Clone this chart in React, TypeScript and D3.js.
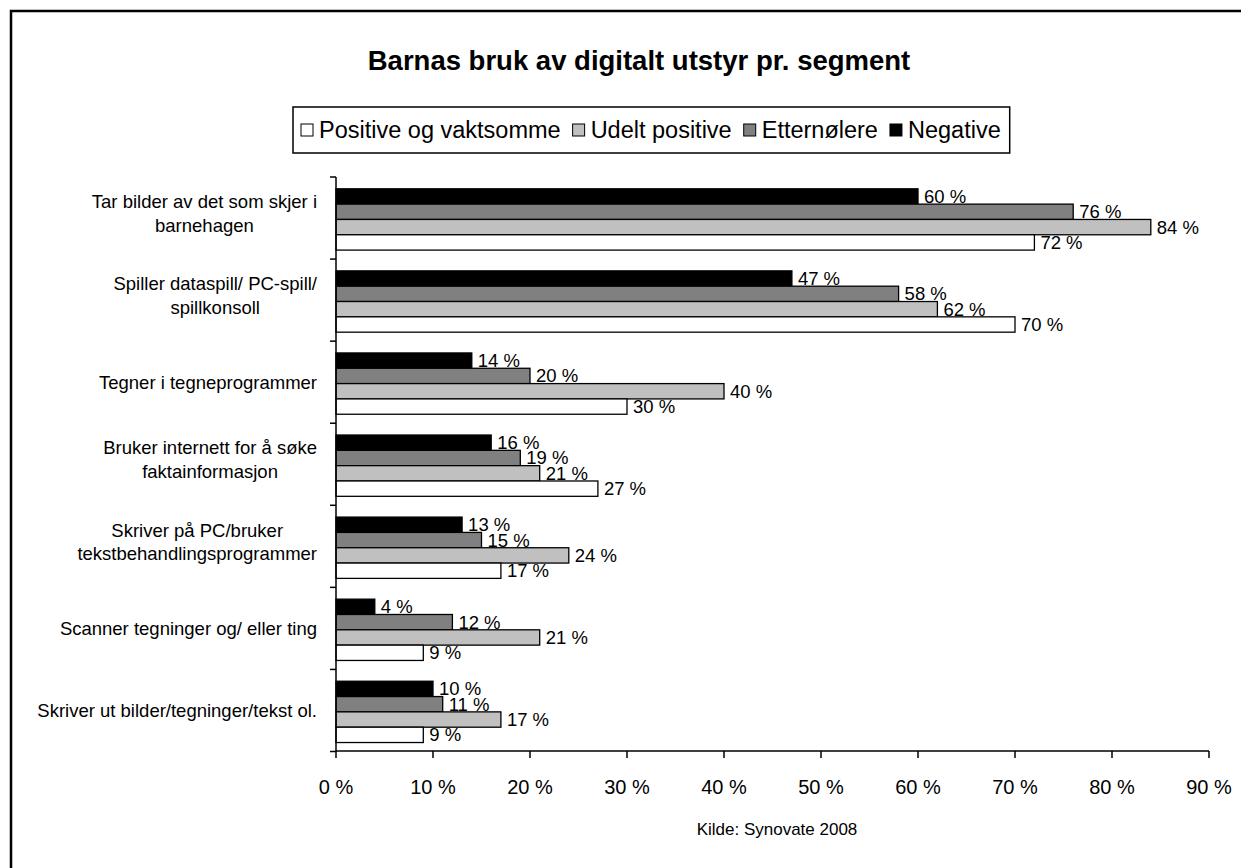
import React, { useEffect, useRef } from 'react';
import * as d3 from 'd3';

// data (top to bottom)
const categories = [
  'Tar bilder av det som skjer i\nbarnehagen',
  'Spiller dataspill/ PC-spill/\nspillkonsoll',
  'Tegner i tegneprogrammer',
  'Bruker internett for å søke\nfaktainformasjon',
  'Skriver på PC/bruker\ntekstbehandlingsprogrammer',
  'Scanner tegninger og/ eller ting',
  'Skriver ut bilder/tegninger/tekst ol.',
];
const seriesNames = ['Positive og vaktsomme', 'Udelt positive', 'Etternølere', 'Negative'];
const seriesColors = ['#ffffff', '#c0c0c0', '#808080', '#000000'];
const positiveVaktsomme = [72, 70, 30, 27, 17, 9, 9];
const udeltPositive = [84, 62, 40, 21, 24, 21, 17];
const etternolere = [76, 58, 20, 19, 15, 12, 11];
const negative = [60, 47, 14, 16, 13, 4, 10];
const xTicks = [0, 10, 20, 30, 40, 50, 60, 70, 80, 90];

const title = 'Barnas bruk av digitalt utstyr pr. segment';
const source = 'Kilde: Synovate 2008';

const FONT = '"Liberation Sans", Arial, sans-serif';

const App = () => {
  const svgRef = useRef<SVGSVGElement>(null);

  useEffect(() => {
    const width = 1241;
    const height = 868;
    const svg = d3.select(svgRef.current);
    svg.selectAll('*').remove();
    svg.attr('width', width).attr('height', height);

    // outer frame (right/bottom edges fall outside the picture)
    svg.append('rect')
      .attr('x', 11).attr('y', 11)
      .attr('width', width + 20).attr('height', height + 20)
      .attr('fill', '#fff')
      .attr('stroke', '#000')
      .attr('stroke-width', 2.5);

    const seriesValues = [positiveVaktsomme, udeltPositive, etternolere, negative];

    const x = d3.scaleLinear().domain([0, 90]).range([336, 1209]);
    const y = d3.scaleBand<string>().domain(categories).range([177, 751.5]);
    // bars drawn top-down: Negative, Etternølere, Udelt positive, Positive og vaktsomme
    const drawOrder = [3, 2, 1, 0];
    const yInner = d3.scaleBand<number>().domain(drawOrder).range([11.8, 73.1]);

    // title
    svg.append('text')
      .attr('x', 639).attr('y', 70)
      .attr('text-anchor', 'middle')
      .attr('font-family', FONT)
      .attr('font-weight', 'bold')
      .attr('font-size', 27.5)
      .text(title);

    // legend
    const legend = svg.append('g');
    const legendBox = legend.append('rect')
      .attr('fill', '#fff')
      .attr('stroke', '#000')
      .attr('stroke-width', 1.5);
    let lx = 301;
    const ly = 130;
    seriesNames.forEach((name, i) => {
      legend.append('rect')
        .attr('x', lx).attr('y', ly - 6)
        .attr('width', 12).attr('height', 12)
        .attr('fill', seriesColors[i])
        .attr('stroke', '#000')
        .attr('stroke-width', 1);
      const t = legend.append('text')
        .attr('x', lx + 18).attr('y', ly)
        .attr('dy', '0.35em')
        .attr('font-family', FONT)
        .attr('font-size', 23.5)
        .text(name);
      const w = (t.node() as SVGTextElement).getComputedTextLength();
      lx += 18 + w + 12;
    });
    legendBox
      .attr('x', 293).attr('y', 107)
      .attr('width', lx - 293 - 3).attr('height', 46);

    // bars
    categories.forEach((cat, ci) => {
      drawOrder.forEach((si) => {
        const v = seriesValues[si][ci];
        const by = (y(cat) as number) + (yInner(si) as number);
        const bh = yInner.bandwidth();
        svg.append('rect')
          .attr('x', x(0)).attr('y', by)
          .attr('width', x(v) - x(0)).attr('height', bh)
          .attr('fill', seriesColors[si])
          .attr('stroke', '#000')
          .attr('stroke-width', 1.3);
      });
    });

    // value labels
    categories.forEach((cat, ci) => {
      drawOrder.forEach((si) => {
        const v = seriesValues[si][ci];
        const by = (y(cat) as number) + (yInner(si) as number) + yInner.bandwidth() / 2;
        svg.append('text')
          .attr('x', x(v) + 6).attr('y', by)
          .attr('dy', '0.35em')
          .attr('font-family', FONT)
          .attr('font-size', 18.5)
          .text(`${v} %`);
      });
    });

    // y axis
    svg.append('line')
      .attr('x1', 336).attr('x2', 336)
      .attr('y1', 177).attr('y2', 751.5)
      .attr('stroke', '#000').attr('stroke-width', 1.5);
    const bounds = categories.map((c) => y(c) as number).concat([751.5]);
    bounds.forEach((b) => {
      svg.append('line')
        .attr('x1', 330).attr('x2', 336)
        .attr('y1', b).attr('y2', b)
        .attr('stroke', '#000').attr('stroke-width', 1.5);
    });

    // category labels: wrapped lines centred, block right-aligned
    const labelRight = 317;
    const lineH = 23.5;
    categories.forEach((cat) => {
      const lines = cat.split('\n');
      const g = svg.append('g');
      const cy = (y(cat) as number) + y.bandwidth() / 2 - (lines.length > 1 ? 4.5 : 0);
      const texts = lines.map((ln, i) =>
        g.append('text')
          .attr('y', cy + (i - (lines.length - 1) / 2) * lineH)
          .attr('dy', '0.35em')
          .attr('text-anchor', 'middle')
          .attr('font-family', FONT)
          .attr('font-size', 18.5)
          .text(ln)
      );
      const maxW = d3.max(texts, (t) => (t.node() as SVGTextElement).getComputedTextLength()) || 0;
      texts.forEach((t) => t.attr('x', labelRight - maxW / 2));
    });

    // x axis
    const xAxis = svg.append('g').attr('transform', 'translate(0,751)');
    xAxis.append('line')
      .attr('x1', x(0)).attr('x2', x(90))
      .attr('stroke', '#000').attr('stroke-width', 1.5);
    xTicks.forEach((t) => {
      xAxis.append('line')
        .attr('x1', x(t)).attr('x2', x(t))
        .attr('y1', 0).attr('y2', 7)
        .attr('stroke', '#000').attr('stroke-width', 1.5);
      xAxis.append('text')
        .attr('x', x(t)).attr('y', 43)
        .attr('text-anchor', 'middle')
        .attr('font-family', FONT)
        .attr('font-size', 20)
        .text(`${t} %`);
    });

    // source note
    svg.append('text')
      .attr('x', 777).attr('y', 835)
      .attr('text-anchor', 'middle')
      .attr('font-family', FONT)
      .attr('font-size', 17)
      .text(source);
  }, []);

  return (
    <svg
      ref={svgRef}
      style={{ position: 'absolute', left: 0, top: 0, display: 'block', background: '#fff' }}
    />
  );
};

export default App;
